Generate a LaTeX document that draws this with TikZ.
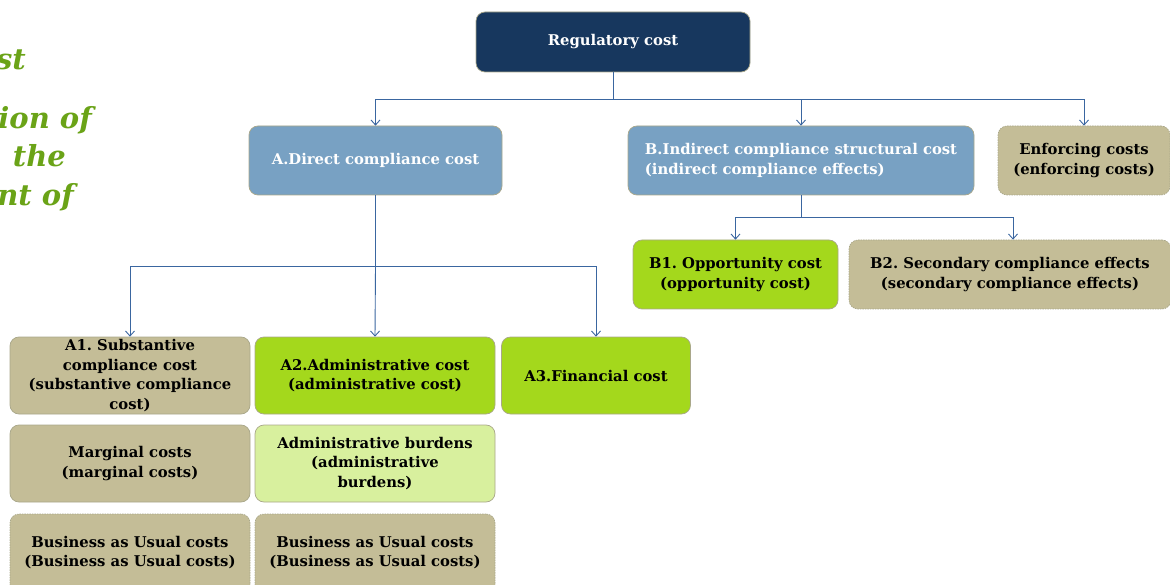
\documentclass[tikz,border=0pt]{standalone}
\usepackage{fontspec}
\setmainfont{DejaVu Serif}
\usepackage{xcolor}
\usetikzlibrary{arrows.meta}
\definecolor{navy}{HTML}{17375E}
\definecolor{steel}{HTML}{78A1C3}
\definecolor{khaki}{HTML}{C4BD97}
\definecolor{lime}{HTML}{A4D81C}
\definecolor{palelime}{HTML}{D8F09E}
\definecolor{wire}{HTML}{3A66A0}
\definecolor{olivetitle}{HTML}{6AA317}
\definecolor{rim}{HTML}{A9A78A}
\frenchspacing

\begin{document}
\begin{tikzpicture}[x=1pt,y=-1pt,
    costbox/.style={rectangle, rounded corners=9pt, draw=rim, line width=0.7pt,
        align=center, inner sep=0pt, font=\bfseries\fontsize{14.8}{19.6}\selectfont},
    dotbox/.style={costbox, dash pattern=on 1.5pt off 1pt},
    wire/.style={draw=wire, line width=0.9pt},
    arr/.style={wire, -{Straight Barb[length=5pt,width=9pt]}}]
        \useasboundingbox (0,0) rectangle (1170,585);
        %TITLE (CUT OFF)
        \begin{scope}[font=\bfseries\itshape\fontsize{29}{38}\selectfont, text=olivetitle]
            \node[anchor=base east, inner sep=0pt] (t1) at (26,70) {st};
            \node[anchor=base east, inner sep=0pt] (t2) at (92,129) {ion of};
            \node[anchor=base east, inner sep=0pt] (t3) at (66,167) {the};
            \node[anchor=base east, inner sep=0pt] (t4) at (74,206) {nt of};
        \end{scope}
        %ROOT
        \node[costbox, fill=navy, text=white, minimum width=274pt, minimum height=60pt] (reg) at (613,42) {Regulatory cost};
        %LEVEL A / B
        \node[costbox, fill=steel, text=white, minimum width=253pt, minimum height=69pt] (dir) at (375.5,160.5) {A.Direct compliance cost};
        \node[costbox, fill=steel, text=white, align=left, minimum width=346pt, minimum height=69pt] (ind) at (801,160.5) {B.Indirect compliance structural cost\\(indirect compliance effects)};
        \node[dotbox, fill=khaki, minimum width=172pt, minimum height=69pt] (enf) at (1084,160.5) {Enforcing costs\\(enforcing costs)};
        %B CHILDREN
        \node[costbox, fill=lime, minimum width=205pt, minimum height=69pt] (opp) at (735.5,274.5) {B1. Opportunity cost\\(opportunity cost)};
        \node[dotbox, fill=khaki, minimum width=322pt, minimum height=69pt] (sec) at (1010,274.5) {B2. Secondary compliance effects\\(secondary compliance effects)};
        %A CHILDREN
        \node[costbox, fill=khaki, minimum width=240pt, minimum height=77pt] (sub) at (130,375.5) {A1. Substantive\\compliance cost\\(substantive compliance\\cost)};
        \node[costbox, fill=lime, minimum width=240pt, minimum height=77pt] (adm) at (375,375.5) {A2.Administrative cost\\(administrative cost)};
        \node[costbox, fill=lime, minimum width=189pt, minimum height=77pt] (fin) at (596,375.5) {A3.Financial cost};
        %SUB ROWS
        \node[costbox, fill=khaki, minimum width=240pt, minimum height=77pt] (mar) at (130,463.5) {Marginal costs\\(marginal costs)};
        \node[costbox, fill=palelime, minimum width=240pt, minimum height=77pt] (bur) at (375,463.5) {Administrative burdens\\(administrative\\burdens)};
        \node[dotbox, fill=khaki, minimum width=240pt, minimum height=84pt] (busl) at (130,556) {\\[-15pt]Business as Usual costs\\(Business as Usual costs)};
        \node[dotbox, fill=khaki, minimum width=240pt, minimum height=84pt] (busr) at (375,556) {\\[-15pt]Business as Usual costs\\(Business as Usual costs)};
        %CONNECTORS
        \coordinate (j1) at (613,99);
        \coordinate (j2) at (375.5,266);
        \coordinate (j3) at (801,217);
        \draw[wire] (reg.south) -- (j1);
        \draw[arr] (j1) -| (dir.north);
        \draw[arr] (j1) -| (ind.north);
        \draw[arr] (j1) -| (enf.north);
        \draw[wire] (dir.south) -- (j2);
        \draw[arr] (j2) -| (sub.north);
        \draw[arr] (j2) -- (adm.north);
        \draw[arr] (j2) -| (fin.north);
        \draw[wire] (ind.south) -- (j3);
        \draw[arr] (j3) -| (opp.north);
        \draw[arr] (j3) -| ([xshift=3pt]sec.north);
    \end{tikzpicture}
\end{document}
